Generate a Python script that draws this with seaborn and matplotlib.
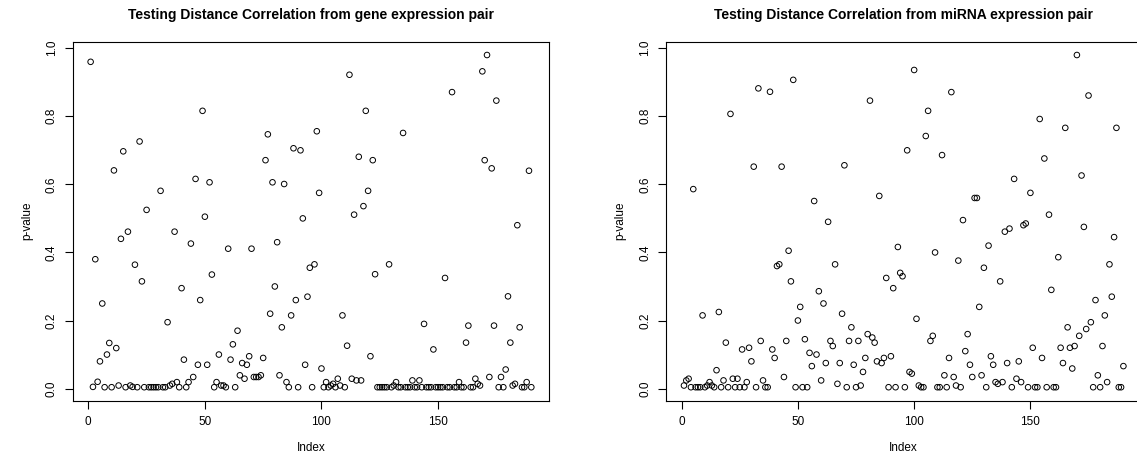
import numpy as np
import pandas as pd
import matplotlib
matplotlib.use("Agg")
import matplotlib.pyplot as plt
import seaborn as sns

# ---------------- data (p-values) ----------------
gene_pvalues = [
    0.96, 0.005, 0.38, 0.02, 0.08, 0.25, 0.004, 0.10, 0.134, 0.004,
    0.641, 0.119, 0.009, 0.44, 0.697, 0.004, 0.461, 0.009, 0.005, 0.364,
    0.004, 0.726, 0.315, 0.004, 0.525, 0.004, 0.004, 0.004, 0.004, 0.004,
    0.581, 0.004, 0.004, 0.195, 0.009, 0.014, 0.461, 0.019, 0.004, 0.295,
    0.085, 0.004, 0.019, 0.426, 0.034, 0.616, 0.07, 0.26, 0.816, 0.505,
    0.07, 0.606, 0.335, 0.004, 0.019, 0.10, 0.009, 0.009, 0.004, 0.411,
    0.085, 0.13, 0.004, 0.17, 0.039, 0.075, 0.029, 0.07, 0.095, 0.411,
    0.034, 0.034, 0.034, 0.039, 0.09, 0.671, 0.747, 0.22, 0.606, 0.30,
    0.43, 0.039, 0.18, 0.601, 0.019, 0.004, 0.215, 0.706, 0.26, 0.004,
    0.70, 0.50, 0.07, 0.27, 0.355, 0.004, 0.365, 0.756, 0.575, 0.059,
    0.004, 0.019, 0.004, 0.009, 0.014, 0.004, 0.029, 0.009, 0.215, 0.004,
    0.126, 0.922, 0.029, 0.511, 0.024, 0.681, 0.024, 0.536, 0.816, 0.581,
    0.095, 0.671, 0.336, 0.004, 0.004, 0.004, 0.004, 0.004, 0.365, 0.004,
    0.009, 0.019, 0.004, 0.004, 0.751, 0.004, 0.004, 0.004, 0.024, 0.004,
    0.004, 0.024, 0.004, 0.19, 0.004, 0.004, 0.004, 0.115, 0.004, 0.004,
    0.004, 0.004, 0.325, 0.004, 0.004, 0.871, 0.004, 0.004, 0.019, 0.004,
    0.004, 0.135, 0.185, 0.004, 0.004, 0.029, 0.014, 0.009, 0.932, 0.671,
    0.98, 0.034, 0.647, 0.185, 0.846, 0.004, 0.034, 0.004, 0.056, 0.271,
    0.135, 0.009, 0.014, 0.48, 0.18, 0.004, 0.004, 0.019, 0.64, 0.004,
]

mirna_pvalues = [
    0.009, 0.024, 0.029, 0.004, 0.586, 0.004, 0.004, 0.004, 0.215, 0.004,
    0.009, 0.019, 0.009, 0.004, 0.054, 0.225, 0.004, 0.024, 0.135, 0.004,
    0.807, 0.029, 0.004, 0.029, 0.004, 0.115, 0.004, 0.019, 0.12, 0.08,
    0.652, 0.004, 0.882, 0.14, 0.024, 0.004, 0.004, 0.872, 0.115, 0.09,
    0.36, 0.365, 0.652, 0.034, 0.14, 0.405, 0.315, 0.907, 0.004, 0.20,
    0.24, 0.004, 0.145, 0.004, 0.105, 0.066, 0.551, 0.10, 0.286, 0.024,
    0.25, 0.075, 0.49, 0.14, 0.125, 0.365, 0.014, 0.075, 0.22, 0.656,
    0.004, 0.14, 0.18, 0.07, 0.004, 0.14, 0.009, 0.049, 0.09, 0.16,
    0.846, 0.15, 0.135, 0.08, 0.566, 0.075, 0.09, 0.325, 0.004, 0.095,
    0.295, 0.004, 0.416, 0.34, 0.33, 0.004, 0.70, 0.049, 0.044, 0.936,
    0.205, 0.009, 0.004, 0.004, 0.742, 0.816, 0.14, 0.155, 0.40, 0.004,
    0.004, 0.686, 0.039, 0.004, 0.09, 0.871, 0.034, 0.009, 0.376, 0.004,
    0.495, 0.11, 0.16, 0.07, 0.034, 0.56, 0.56, 0.24, 0.039, 0.355,
    0.004, 0.42, 0.095, 0.07, 0.019, 0.014, 0.315, 0.019, 0.461, 0.075,
    0.47, 0.004, 0.616, 0.029, 0.08, 0.019, 0.48, 0.485, 0.004, 0.575,
    0.12, 0.004, 0.004, 0.792, 0.09, 0.676, 0.004, 0.511, 0.29, 0.004,
    0.004, 0.386, 0.12, 0.075, 0.766, 0.18, 0.12, 0.059, 0.125, 0.98,
    0.155, 0.626, 0.475, 0.175, 0.861, 0.195, 0.004, 0.26, 0.039, 0.004,
    0.125, 0.215, 0.019, 0.365, 0.27, 0.445, 0.766, 0.004, 0.004, 0.066,
]

titles = [
    "Testing Distance Correlation from gene expression pair",
    "Testing Distance Correlation from miRNA expression pair",
]
x_ticks = [0, 50, 100, 150]
y_ticks = [0.0, 0.2, 0.4, 0.6, 0.8, 1.0]
x_label = "Index"
y_label = "p-value"

# ---------------- style ----------------
sns.set_style("white")
plt.rcParams["font.family"] = ["Liberation Sans", "DejaVu Sans"]
plt.rcParams["axes.edgecolor"] = "black"
plt.rcParams["axes.linewidth"] = 0.8
plt.rcParams["xtick.color"] = "black"
plt.rcParams["ytick.color"] = "black"
plt.rcParams["text.color"] = "black"
plt.rcParams["axes.labelcolor"] = "black"

fig = plt.figure(figsize=(11.37, 4.62), dpi=100)
ax1 = fig.add_axes([0.0642, 0.1331, 0.4186, 0.7766])
ax2 = fig.add_axes([0.5861, 0.1331, 0.4174, 0.7766])

for ax, vals, title in zip([ax1, ax2], [gene_pvalues, mirna_pvalues], titles):
    df = pd.DataFrame({"Index": np.arange(1, len(vals) + 1), "p": vals})
    sns.scatterplot(data=df, x="Index", y="p", ax=ax, marker="o",
                    facecolor="none", edgecolor="black", linewidth=0.7,
                    s=16, legend=False)
    n = len(vals)
    xspan = n - 1
    ax.set_xlim(1 - 0.04 * xspan, n + 0.04 * xspan)
    ymin, ymax = min(vals), max(vals)
    yspan = ymax - ymin
    ax.set_ylim(ymin - 0.04 * yspan, ymax + 0.04 * yspan)
    ax.set_xticks(x_ticks)
    ax.set_yticks(y_ticks)
    ax.set_yticklabels([f"{v:.1f}" for v in y_ticks], rotation=90, va="center")
    ax.tick_params(axis="both", which="both", direction="out", length=6,
                   width=0.8, labelsize=8.5, bottom=True, left=True)
    ax.tick_params(axis="x", pad=5)
    ax.tick_params(axis="y", pad=5)
    ax.set_xlabel(x_label, fontsize=8.5, labelpad=10)
    ax.set_ylabel(y_label, fontsize=8.5, labelpad=9)
    ax.set_title(title, fontsize=10, fontweight="bold", pad=16)
    for sp in ax.spines.values():
        sp.set_visible(True)
        sp.set_color("black")
        sp.set_linewidth(0.8)

fig.savefig("out.png", dpi=100)
